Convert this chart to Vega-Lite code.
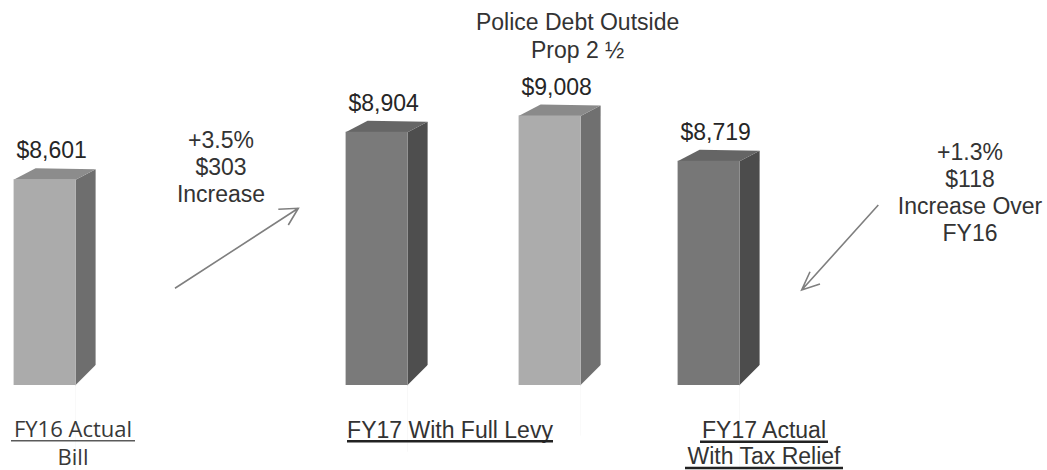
{
  "$schema": "https://vega.github.io/schema/vega-lite/v6.json",
  "width": 1047,
  "height": 385,
  "autosize": {"type": "none"},
  "padding": {"left": 0, "top": 0, "right": 0, "bottom": 85},
  "background": "white",
  "config": {"view": {"stroke": null}},
  "data": {
    "values": [
      {"group": "FY16 Actual Bill", "part": "Tax bill", "bar": "FY16 Actual Bill", "amount": 8601, "labelLines": ["FY16 Actual", "Bill"]},
      {"group": "FY17 With Full Levy", "part": "Tax bill", "bar": "FY17 With Full Levy", "amount": 8904, "labelLines": ["FY17 With Full Levy"], "note": ["+3.5%", "$303", "Increase"]},
      {"group": "FY17 With Full Levy", "part": "Police debt exclusion", "bar": "Police Debt Outside Prop 2 ½", "amount": 9008, "title": ["Police Debt Outside", "Prop 2 ½"]},
      {"group": "FY17 Actual With Tax Relief", "part": "Tax bill", "bar": "FY17 Actual With Tax Relief", "amount": 8719, "labelLines": ["FY17 Actual", "With Tax Relief"], "note": ["+1.3%", "$118", "Increase Over", "FY16"]}
    ]
  },
  "resolve": {"scale": {"color": "independent", "shape": "independent"}},
  "layer": [
    {
      "mark": {"type": "point", "shape": "M 31 0.5 L 51 -10 L 51 320 L 31 320 Z", "size": 4, "filled": true, "opacity": 1, "strokeWidth": 0},
      "encoding": {
        "x": {"field": "group", "type": "nominal", "axis": null, "scale": {"domain": ["FY16 Actual Bill", "FY17 With Full Levy", "FY17 Actual With Tax Relief"], "paddingInner": 0.29217, "paddingOuter": 0.22289, "align": 0.0919}},
        "xOffset": {"field": "part", "type": "nominal", "scale": {"domain": ["Tax bill", "Police debt exclusion"], "paddingInner": 0.6416, "paddingOuter": 0}},
        "y": {"field": "amount", "type": "quantitative", "axis": null, "scale": {"domain": [7286, 9746], "zero": false, "nice": false}},
        "color": {"field": "bar", "type": "nominal", "legend": null, "scale": {"domain": ["FY16 Actual Bill", "FY17 With Full Levy", "Police Debt Outside Prop 2 ½", "FY17 Actual With Tax Relief"], "range": ["#6e6e6e", "#4e4e4e", "#707070", "#4c4c4c"]}}
      }
    },
    {
      "mark": {"type": "point", "shape": "M 30.5 1 L 31 0 L 51 -20 L 53 -20 L 53 100 L 30.5 100 Z", "size": 4, "filled": true, "opacity": 1, "color": "white", "strokeWidth": 0},
      "encoding": {
        "x": {"field": "group", "type": "nominal", "axis": null},
        "xOffset": {"field": "part", "type": "nominal"},
        "y": {"datum": 7286, "type": "quantitative", "axis": null}
      }
    },
    {
      "mark": {"type": "point", "shape": "M -31 0.5 L 31 0.5 L 51 -10 L -9 -11 Z", "size": 4, "filled": true, "opacity": 1, "strokeWidth": 0},
      "encoding": {
        "x": {"field": "group", "type": "nominal", "axis": null},
        "xOffset": {"field": "part", "type": "nominal"},
        "y": {"field": "amount", "type": "quantitative", "axis": null},
        "color": {"field": "bar", "type": "nominal", "legend": null, "scale": {"domain": ["FY16 Actual Bill", "FY17 With Full Levy", "Police Debt Outside Prop 2 ½", "FY17 Actual With Tax Relief"], "range": ["#8c8c8c", "#666666", "#8a8a8a", "#656565"]}}
      }
    },
    {
      "mark": {"type": "bar"},
      "encoding": {
        "x": {"field": "group", "type": "nominal", "axis": null},
        "xOffset": {"field": "part", "type": "nominal"},
        "y": {"field": "amount", "type": "quantitative", "axis": null},
        "y2": {"datum": 7286},
        "color": {"field": "bar", "type": "nominal", "legend": null, "scale": {"domain": ["FY16 Actual Bill", "FY17 With Full Levy", "Police Debt Outside Prop 2 ½", "FY17 Actual With Tax Relief"], "range": ["#ababab", "#7a7a7a", "#acacac", "#777777"]}}
      }
    },
    {
      "mark": {"type": "text", "font": "Liberation Sans", "fontSize": 23, "color": "#262626", "align": "center", "baseline": "alphabetic", "dx": 7, "dy": -21},
      "encoding": {
        "x": {"field": "group", "type": "nominal", "axis": null},
        "xOffset": {"field": "part", "type": "nominal"},
        "y": {"field": "amount", "type": "quantitative", "axis": null},
        "text": {"field": "amount", "type": "quantitative", "format": "$,d"}
      }
    },
    {
      "transform": [{"filter": "isValid(datum.title)"}],
      "mark": {"type": "text", "font": "Liberation Sans", "fontSize": 23, "color": "#333333", "align": "center", "baseline": "alphabetic", "dx": 28, "dy": -85.5, "lineHeight": 28.3},
      "encoding": {
        "x": {"field": "group", "type": "nominal", "axis": null},
        "xOffset": {"field": "part", "type": "nominal"},
        "y": {"field": "amount", "type": "quantitative", "axis": null},
        "text": {"field": "title"}
      }
    },
    {
      "transform": [{"filter": "datum.bar === 'FY17 With Full Levy'"}],
      "mark": {"type": "text", "font": "Liberation Sans", "fontSize": 23, "color": "#333333", "align": "center", "baseline": "alphabetic", "dx": -155.6, "dy": 16.5, "lineHeight": 26.7},
      "encoding": {
        "x": {"field": "group", "type": "nominal", "axis": null},
        "xOffset": {"field": "part", "type": "nominal"},
        "y": {"field": "amount", "type": "quantitative", "axis": null},
        "text": {"field": "note"}
      }
    },
    {
      "transform": [{"filter": "datum.bar === 'FY17 Actual With Tax Relief'"}],
      "mark": {"type": "text", "font": "Liberation Sans", "fontSize": 23, "color": "#333333", "align": "center", "baseline": "alphabetic", "dx": 261.4, "dy": -0.7, "lineHeight": 27},
      "encoding": {
        "x": {"field": "group", "type": "nominal", "axis": null},
        "xOffset": {"field": "part", "type": "nominal"},
        "y": {"field": "amount", "type": "quantitative", "axis": null},
        "text": {"field": "note"}
      }
    },
    {
      "transform": [{"filter": "isValid(datum.note)"}],
      "mark": {"type": "point", "size": 4, "filled": false, "opacity": 1, "color": "#7f7f7f", "strokeWidth": 1.6},
      "encoding": {
        "x": {"field": "group", "type": "nominal", "axis": null},
        "xOffset": {"field": "part", "type": "nominal"},
        "y": {"field": "amount", "type": "quantitative", "axis": null},
        "shape": {"field": "bar", "type": "nominal", "legend": null, "scale": {"domain": ["FY17 With Full Levy", "FY17 Actual With Tax Relief"], "range": ["M -201.6 156.5 L -78.3 76.5 M -98.3 77.5 L -78.3 76.5 L -88.3 93.2", "M 169.7 44.3 L 93.1 129.3 M 111.4 123.3 L 93.1 129.3 L 101.4 111"]}}
      }
    },
    {
      "transform": [{"filter": "datum.group === 'FY16 Actual Bill'"}],
      "mark": {"type": "text", "font": "Open Sans", "fontSize": 22, "color": "#383838", "align": "center", "baseline": "alphabetic", "dx": 28.4, "dy": 52.3, "lineHeight": 27.5},
      "encoding": {
        "x": {"field": "group", "type": "nominal", "axis": null},
        "xOffset": {"field": "part", "type": "nominal"},
        "y": {"datum": 7286, "type": "quantitative", "axis": null},
        "text": {"field": "labelLines"}
      }
    },
    {
      "transform": [{"filter": "datum.bar === 'FY17 With Full Levy'"}],
      "mark": {"type": "text", "font": "Liberation Sans", "fontSize": 23, "color": "#333333", "align": "center", "baseline": "alphabetic", "dx": -13.1, "dy": 53.3},
      "encoding": {
        "x": {"field": "group", "type": "nominal", "axis": null},
        "y": {"datum": 7286, "type": "quantitative", "axis": null},
        "text": {"field": "labelLines"}
      }
    },
    {
      "transform": [{"filter": "datum.group === 'FY17 Actual With Tax Relief'"}],
      "mark": {"type": "text", "font": "Liberation Sans", "fontSize": 23, "color": "#333333", "align": "center", "baseline": "alphabetic", "dx": 55.4, "dy": 53.3, "lineHeight": 26},
      "encoding": {
        "x": {"field": "group", "type": "nominal", "axis": null},
        "xOffset": {"field": "part", "type": "nominal"},
        "y": {"datum": 7286, "type": "quantitative", "axis": null},
        "text": {"field": "labelLines"}
      }
    },
    {
      "transform": [{"filter": "datum.group === 'FY16 Actual Bill'"}],
      "mark": {"type": "point", "shape": "M -33.6 55.7 L 90.4 55.7", "size": 4, "filled": false, "opacity": 1, "color": "#5a5a5a", "strokeWidth": 1.4},
      "encoding": {
        "x": {"field": "group", "type": "nominal", "axis": null},
        "xOffset": {"field": "part", "type": "nominal"},
        "y": {"datum": 7286, "type": "quantitative", "axis": null}
      }
    },
    {
      "transform": [{"filter": "datum.bar === 'FY17 With Full Levy'"}],
      "mark": {"type": "point", "shape": "M -116.1 56.3 L 89.9 56.3", "size": 4, "filled": false, "opacity": 1, "color": "#222222", "strokeWidth": 2.4},
      "encoding": {
        "x": {"field": "group", "type": "nominal", "axis": null},
        "y": {"datum": 7286, "type": "quantitative", "axis": null}
      }
    },
    {
      "transform": [{"filter": "datum.group === 'FY17 Actual With Tax Relief'"}],
      "mark": {"type": "point", "shape": "M -8.6 56.7 L 119.4 56.7 M -23.6 83 L 134.4 83", "size": 4, "filled": false, "opacity": 1, "color": "#222222", "strokeWidth": 2.4},
      "encoding": {
        "x": {"field": "group", "type": "nominal", "axis": null},
        "xOffset": {"field": "part", "type": "nominal"},
        "y": {"datum": 7286, "type": "quantitative", "axis": null}
      }
    }
  ]
}
